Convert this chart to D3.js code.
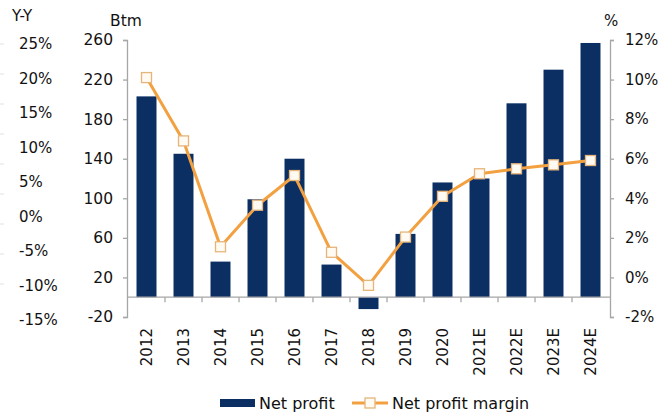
<!DOCTYPE html>
<html>
<head>
<meta charset="utf-8">
<script src="https://cdn.jsdelivr.net/npm/d3@7"></script>
<style>
  html, body { margin: 0; padding: 0; background: #fff; }
  svg { display: block; font-family: "DejaVu Sans", Verdana, sans-serif; }
</style>
</head>
<body>
<svg id="chart" width="672" height="414"></svg>
<script>
const categories = ["2012","2013","2014","2015","2016","2017","2018","2019","2020","2021E","2022E","2023E","2024E"];
const netProfit = [203, 145, 36, 99, 140, 33, -12, 64, 116, 120, 196, 230, 257];
const netProfitMargin = [10.1, 6.9, 1.55, 3.65, 5.15, 1.27, -0.4, 2.04, 4.1, 5.24, 5.49, 5.69, 5.91];
const leftTicks = [-20, 20, 60, 100, 140, 180, 220, 260];
const rightTicks = [-2, 0, 2, 4, 6, 8, 10, 12];
const yyTicks = [25, 20, 15, 10, 5, 0, -5, -10, -15];
const yyFaintTicks = d3.range(0, 9);

const barColor = "#0b2e63";
const lineColor = "#f2a040";
const markerStroke = "#e6b57a";
const markerFill = "#fffaf2";
const axisColor = "#a6a6a6";
const textColor = "#111";

const svg = d3.select("#chart");

const x = d3.scaleBand().domain(categories).range([128, 609]).paddingInner(0.46).paddingOuter(0.23);
const yL = d3.scaleLinear().domain([-20, 260]).range([317, 40]);
const yR = d3.scaleLinear().domain([-2, 12]).range([317, 40]);
const yYY = d3.scaleLinear().domain([-15, 25]).range([320, 44]);
const yFaint = d3.scaleLinear().domain([0, 8]).range([284, 44]);

// bars
svg.append("g").selectAll("rect").data(categories).join("rect")
  .attr("x", d => x(d))
  .attr("width", x.bandwidth())
  .attr("y", (d, i) => yL(Math.max(0, netProfit[i])))
  .attr("height", (d, i) => Math.abs(yL(netProfit[i]) - yL(0)))
  .attr("fill", barColor);

// left axis
const gL = svg.append("g").attr("transform", "translate(127,0)")
  .call(d3.axisLeft(yL).tickValues(leftTicks).tickSize(4).tickPadding(10).tickFormat(d => String(d)));
gL.select(".domain").attr("stroke", axisColor).attr("stroke-width", 1.3);
gL.selectAll(".tick line").attr("stroke", axisColor).attr("stroke-width", 1.3);
gL.selectAll("text").attr("fill", textColor).style("font-size", "15.5px").style("font-family", "DejaVu Sans");

// right axis
const gR = svg.append("g").attr("transform", "translate(610,0)")
  .call(d3.axisRight(yR).tickValues(rightTicks).tickSize(4).tickPadding(11).tickFormat(d => d + "%"));
gR.select(".domain").attr("stroke", axisColor).attr("stroke-width", 1.3);
gR.selectAll(".tick line").attr("stroke", axisColor).attr("stroke-width", 1.3);
gR.selectAll("text").attr("fill", textColor).style("font-size", "15px").style("font-family", "DejaVu Sans");

// category axis at zero
const gX = svg.append("g").attr("transform", `translate(0,${yL(0)})`);
gX.append("line").attr("x1", 127).attr("x2", 610).attr("y1", 0).attr("y2", 0)
  .attr("stroke", axisColor).attr("stroke-width", 1.3);
gX.selectAll("line.tk").data(categories.slice(1)).join("line").attr("class", "tk")
  .attr("x1", d => x(d) - x.step() * x.paddingInner() / 2)
  .attr("x2", d => x(d) - x.step() * x.paddingInner() / 2)
  .attr("y1", 0).attr("y2", 5)
  .attr("stroke", axisColor).attr("stroke-width", 1.3);

// category labels (rotated)
svg.append("g").selectAll("text").data(categories).join("text")
  .attr("transform", d => `translate(${x(d) + x.bandwidth() / 2 + 5},328) rotate(-90)`)
  .attr("text-anchor", "end")
  .attr("fill", textColor)
  .style("font-size", "15px")
  .text(d => d);

// far-left Y-Y axis (labels only, faint ticks)
svg.append("g").selectAll("line").data(yyFaintTicks).join("line")
  .attr("x1", 0).attr("x2", 4)
  .attr("y1", d => yFaint(d)).attr("y2", d => yFaint(d))
  .attr("stroke", "#e2e2e2").attr("stroke-width", 1);
svg.append("g").selectAll("text").data(yyTicks).join("text")
  .attr("x", 19).attr("y", d => yYY(d)).attr("dy", "0.35em")
  .attr("fill", textColor).style("font-size", "15px")
  .text(d => d + "%");

// line
const line = d3.line().x((d, i) => x(categories[i]) + x.bandwidth() / 2).y(d => yR(d));
svg.append("path").datum(netProfitMargin)
  .attr("d", line).attr("fill", "none")
  .attr("stroke", lineColor).attr("stroke-width", 3).attr("stroke-linejoin", "round");
svg.append("g").selectAll("rect").data(netProfitMargin).join("rect")
  .attr("x", (d, i) => x(categories[i]) + x.bandwidth() / 2 - 5)
  .attr("y", d => yR(d) - 5)
  .attr("width", 10).attr("height", 10)
  .attr("fill", markerFill).attr("stroke", markerStroke).attr("stroke-width", 1.3);

// axis titles
svg.append("text").attr("x", 12).attr("y", 21).attr("fill", textColor).style("font-size", "15px").text("Y-Y");
svg.append("text").attr("x", 110).attr("y", 26).attr("fill", textColor).style("font-size", "15.5px").text("Btm");
svg.append("text").attr("x", 604).attr("y", 26).attr("fill", textColor).style("font-size", "15px").text("%");

// legend
const lg = svg.append("g");
lg.append("rect").attr("x", 220).attr("y", 399).attr("width", 35).attr("height", 8).attr("fill", barColor);
lg.append("text").attr("x", 259).attr("y", 409).attr("fill", textColor).style("font-size", "16px").text("Net profit");
lg.append("line").attr("x1", 352).attr("x2", 388).attr("y1", 403).attr("y2", 403)
  .attr("stroke", lineColor).attr("stroke-width", 3);
lg.append("rect").attr("x", 365).attr("y", 398).attr("width", 10).attr("height", 10)
  .attr("fill", markerFill).attr("stroke", markerStroke).attr("stroke-width", 1.3);
lg.append("text").attr("x", 392).attr("y", 409).attr("fill", textColor).style("font-size", "16px").text("Net profit margin");
</script>
</body>
</html>
